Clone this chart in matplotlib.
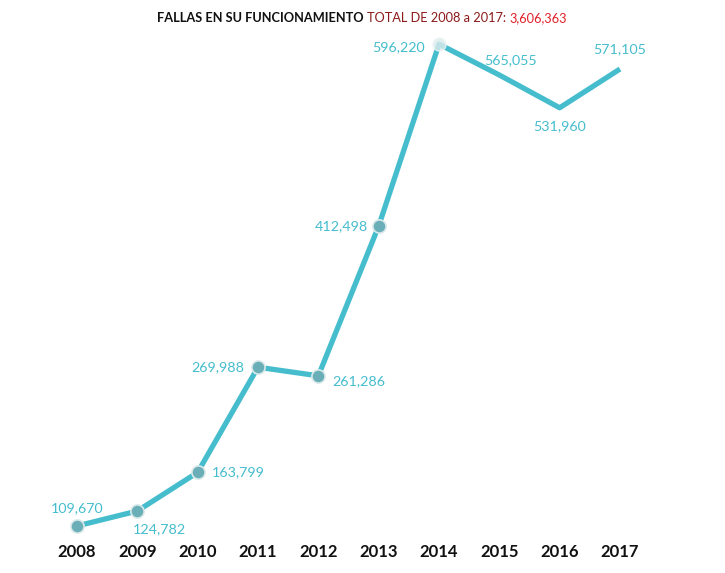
import matplotlib
matplotlib.use("Agg")
import matplotlib.pyplot as plt

# Datos
years = [2008, 2009, 2010, 2011, 2012, 2013, 2014, 2015, 2016, 2017]
fallas = [109670, 124782, 163799, 269988, 261286, 412498, 596220, 565055, 531960, 571105]
total_txt = "3,606,363"

# posicion de cada etiqueta respecto al punto (dx, dy en puntos, ha, va)
label_pos = [(0, 13, 'center', 'center'),
             (16, -13, 'center', 'center'),
             (10, 0, 'left', 'center'),
             (-10, 0, 'right', 'center'),
             (10, -4, 'left', 'center'),
             (-8, 0, 'right', 'center'),
             (-10, -2, 'right', 'center'),
             (8, 11, 'center', 'center'),
             (0, -13, 'center', 'center'),
             (0, 14, 'center', 'center')]

line_col = '#45bdcd'
plt.rcParams['font.family'] = ['Lato', 'DejaVu Sans']

fig = plt.figure(figsize=(7.25, 5.73), dpi=100)
ax = fig.add_axes([0, 33 / 573, 1, 510 / 573])

ax.plot(years, fallas, color=line_col, lw=3.8, solid_capstyle='butt', zorder=2)
ax.plot(years[:6], fallas[:6], 'o', ms=9.5, mfc='#6aafb8', mec='#dbe9ea', mew=1.2, zorder=3)
ax.plot(years[6:7], fallas[6:7], 'o', ms=9.5, mfc='#dcebec', mec='#eef5f5', alpha=0.8, zorder=3)

for x, y, (dx, dy, ha, va) in zip(years, fallas, label_pos):
    ax.annotate(f"{y:,}", (x, y), xytext=(dx, dy), textcoords='offset points',
                ha=ha, va=va, fontsize=10.3, color=line_col)

ax.set_xlim(2008 - 77 / 60.33, 2017 + 105 / 60.33)
ax.set_ylim(95500, 610500)
ax.set_xticks(years)
ax.set_xticklabels([str(y) for y in years], fontsize=12, fontweight='bold', color='#111111')
ax.tick_params(axis='x', length=0, pad=3)
ax.set_yticks([])
for s in ax.spines.values():
    s.set_visible(False)

# titulo en tres colores
parts = [("FALLAS EN SU FUNCIONAMIENTO ", '#111111', 'bold'),
         ("TOTAL DE 2008 a 2017: ", '#8b1a1a', 'normal'),
         (total_txt, '#e0202a', 'normal')]
fig.canvas.draw()
r = fig.canvas.get_renderer()
texts = []
for s, c, w in parts:
    texts.append(fig.text(0, 1 - 18 / 573, s, color=c, fontsize=9.2, fontweight=w, va='center'))
widths = [t.get_window_extent(r).width for t in texts]
x0 = 157.0
for t, w in zip(texts, widths):
    t.set_x(x0 / 725)
    x0 += w

fig.savefig("out.png", dpi=100)
